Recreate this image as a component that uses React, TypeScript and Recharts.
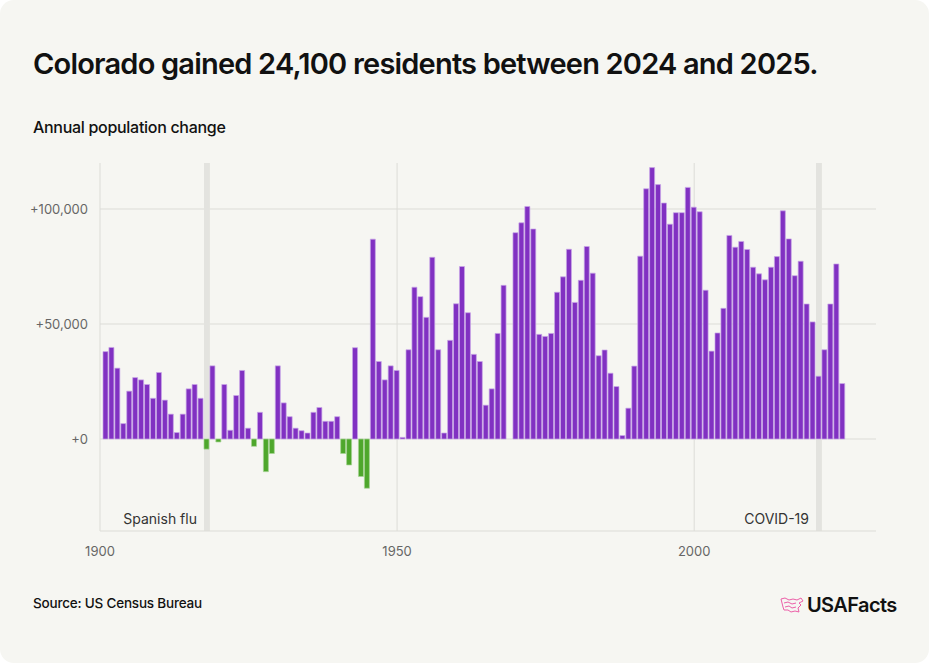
import React from "react";
import {
  BarChart,
  Bar,
  Cell,
  XAxis,
  YAxis,
  CartesianGrid,
  ReferenceArea,
} from "recharts";

// Annual population change in Colorado, 1901–2025 (1969 not reported)
const years: number[] = [
  1901, 1902, 1903, 1904, 1905, 1906, 1907, 1908, 1909, 1910,
  1911, 1912, 1913, 1914, 1915, 1916, 1917, 1918, 1919, 1920,
  1921, 1922, 1923, 1924, 1925, 1926, 1927, 1928, 1929, 1930,
  1931, 1932, 1933, 1934, 1935, 1936, 1937, 1938, 1939, 1940,
  1941, 1942, 1943, 1944, 1945, 1946, 1947, 1948, 1949, 1950,
  1951, 1952, 1953, 1954, 1955, 1956, 1957, 1958, 1959, 1960,
  1961, 1962, 1963, 1964, 1965, 1966, 1967, 1968, 1969, 1970,
  1971, 1972, 1973, 1974, 1975, 1976, 1977, 1978, 1979, 1980,
  1981, 1982, 1983, 1984, 1985, 1986, 1987, 1988, 1989, 1990,
  1991, 1992, 1993, 1994, 1995, 1996, 1997, 1998, 1999, 2000,
  2001, 2002, 2003, 2004, 2005, 2006, 2007, 2008, 2009, 2010,
  2011, 2012, 2013, 2014, 2015, 2016, 2017, 2018, 2019, 2020,
  2021, 2022, 2023, 2024, 2025,
];

const change: (number | null)[] = [
  38000, 39800, 30800, 6700, 20800, 26700, 25700, 23700, 17700, 28900,
  16900, 10800, 2800, 10800, 21800, 23700, 17700, -4400, 31800, -1300,
  23700, 3800, 18900, 29800, 4700, -3200, 11600, -14200, -6300, 31800,
  15700, 9700, 4700, 3600, 2600, 11600, 13700, 7700, 7700, 9700,
  -6300, -11300, 39700, -16300, -21400, 86900, 33700, 25700, 31800, 29800,
  700, 38800, 66000, 61900, 52900, 79000, 38800, 2600, 42900, 58800,
  75000, 54900, 36800, 33700, 14700, 21800, 45900, 66800, null, 89700,
  94000, 101100, 91300, 45500, 44600, 45900, 63800, 70500, 82500, 59400,
  69000, 83700, 72100, 36200, 38700, 28600, 22800, 1500, 13400, 31700,
  79500, 108800, 118000, 110600, 102600, 93400, 98400, 98400, 109400, 100800,
  98800, 64700, 38200, 46100, 56800, 88500, 83400, 85900, 82400, 74700,
  71800, 69200, 74700, 79300, 99200, 87000, 71000, 77300, 58700, 50900,
  27300, 38800, 58700, 76100, 24100,
];

const xTicks: number[] = [1900, 1950, 2000];
const yTicks: number[] = [0, 50000, 100000];

// Highlighted events: year and caption
const eventYears: number[] = [1918, 2021];
const eventNames: string[] = ["Spanish flu", "COVID-19"];

const data = years.map((year, i) => ({ year, change: change[i] }));

const PURPLE = "#8131c2";
const PURPLE_EDGE = "#c9a6e8";
const GREEN = "#4ea72c";
const GREEN_EDGE = "#a6d493";
const FONT = "Inter, 'Noto Sans', sans-serif";

const formatY = (v: number) => "+" + v.toLocaleString("en-US");

function EventCaption(props: any) {
  const { viewBox, text } = props;
  if (!viewBox) return null;
  return (
    <text
      x={viewBox.x - 7}
      y={viewBox.y + viewBox.height - 7}
      textAnchor="end"
      fontFamily={FONT}
      fontSize={14}
      fill="#333"
    >
      {text}
    </text>
  );
}

function Logo() {
  return (
    <div
      style={{
        position: "absolute",
        left: 780,
        top: 593,
        display: "flex",
        alignItems: "center",
        gap: 3,
      }}
    >
      <svg width="24" height="18" viewBox="0 0 24 18">
        <g fill="none" stroke="#ec5fa8" strokeWidth="1" strokeLinejoin="round">
          <path d="M1 3 L5 2 L9 4 L13 3 L17 4 L21 2 L23 5 L19 7 L21 9 L18 12 L19 16 L15 15 L11 16 L8 14 L4 14 L3 11 L2 7 Z" />
          <path d="M4 7 L8 6 L12 8 L16 7" />
          <path d="M5 11 L9 10 L12 12 L16 11" />
        </g>
      </svg>
      <span
        style={{
          fontFamily: FONT,
          fontWeight: 600,
          fontSize: 20,
          letterSpacing: -0.6,
          color: "#111",
        }}
      >
        USAFacts
      </span>
    </div>
  );
}

export default function App() {
  return (
    <div
      style={{
        position: "absolute",
        left: 0,
        top: 0,
        width: 929,
        height: 663,
        background: "#ffffff",
      }}
    >
      <div
        style={{
          position: "absolute",
          left: 0,
          top: 0,
          width: 929,
          height: 663,
          background: "#f6f6f2",
          borderRadius: 14,
          overflow: "hidden",
        }}
      >
        <div
          style={{
            position: "absolute",
            left: 33,
            top: 46,
            fontFamily: FONT,
            fontWeight: 600,
            fontSize: 29,
            letterSpacing: -0.8,
            color: "#111",
            whiteSpace: "nowrap",
          }}
        >
          Colorado gained 24,100 residents between 2024 and 2025.
        </div>
        <div
          style={{
            position: "absolute",
            left: 33,
            top: 117,
            fontFamily: FONT,
            fontWeight: 500,
            fontSize: 16,
            letterSpacing: -0.3,
            color: "#111",
            whiteSpace: "nowrap",
          }}
        >
          Annual population change
        </div>

        <div style={{ position: "absolute", left: 0, top: 150 }}>
          <BarChart
            width={929}
            height={421}
            data={data}
            margin={{ top: 13, right: 53, bottom: 0, left: 0 }}
            barGap={0}
          >
            <CartesianGrid
              stroke="#dcdcd7"
              strokeWidth={1}
              horizontalValues={yTicks}
              verticalValues={xTicks}
            />
            <ReferenceArea
              x1={eventYears[0] - 0.5}
              x2={eventYears[0] + 0.5}
              y1={-40000}
              y2={120000}
              fill="#e3e3df"
              fillOpacity={1}
              stroke="none"
              label={<EventCaption text={eventNames[0]} />}
            />
            <ReferenceArea
              x1={eventYears[1] - 0.5}
              x2={eventYears[1] + 0.5}
              y1={-40000}
              y2={120000}
              fill="#e3e3df"
              fillOpacity={1}
              stroke="none"
              label={<EventCaption text={eventNames[1]} />}
            />
            <XAxis
              dataKey="year"
              type="number"
              domain={[1900, 2030.6]}
              ticks={xTicks}
              allowDataOverflow
              height={40}
              tickSize={0}
              tickMargin={16}
              axisLine={{ stroke: "#dcdcd7" }}
              tick={{ fontFamily: FONT, fontSize: 13, fill: "#666" }}
            />
            <YAxis
              type="number"
              domain={[-40000, 120000]}
              ticks={yTicks}
              allowDataOverflow
              width={100}
              tickSize={0}
              tickMargin={12}
              axisLine={false}
              tickFormatter={formatY}
              tick={{ fontFamily: FONT, fontSize: 13, fill: "#666" }}
            />
            <Bar
              dataKey="change"
              barSize={5}
              isAnimationActive={false}
              strokeWidth={0.7}
            >
              {data.map((d) => (
                <Cell
                  key={d.year}
                  fill={(d.change ?? 0) < 0 ? GREEN : PURPLE}
                  stroke={(d.change ?? 0) < 0 ? GREEN_EDGE : PURPLE_EDGE}
                />
              ))}
            </Bar>
          </BarChart>
        </div>

        <div
          style={{
            position: "absolute",
            left: 33,
            top: 595,
            fontFamily: FONT,
            fontWeight: 500,
            fontSize: 13.5,
            letterSpacing: -0.2,
            color: "#111",
            whiteSpace: "nowrap",
          }}
        >
          Source: US Census Bureau
        </div>
        <Logo />
      </div>
    </div>
  );
}
